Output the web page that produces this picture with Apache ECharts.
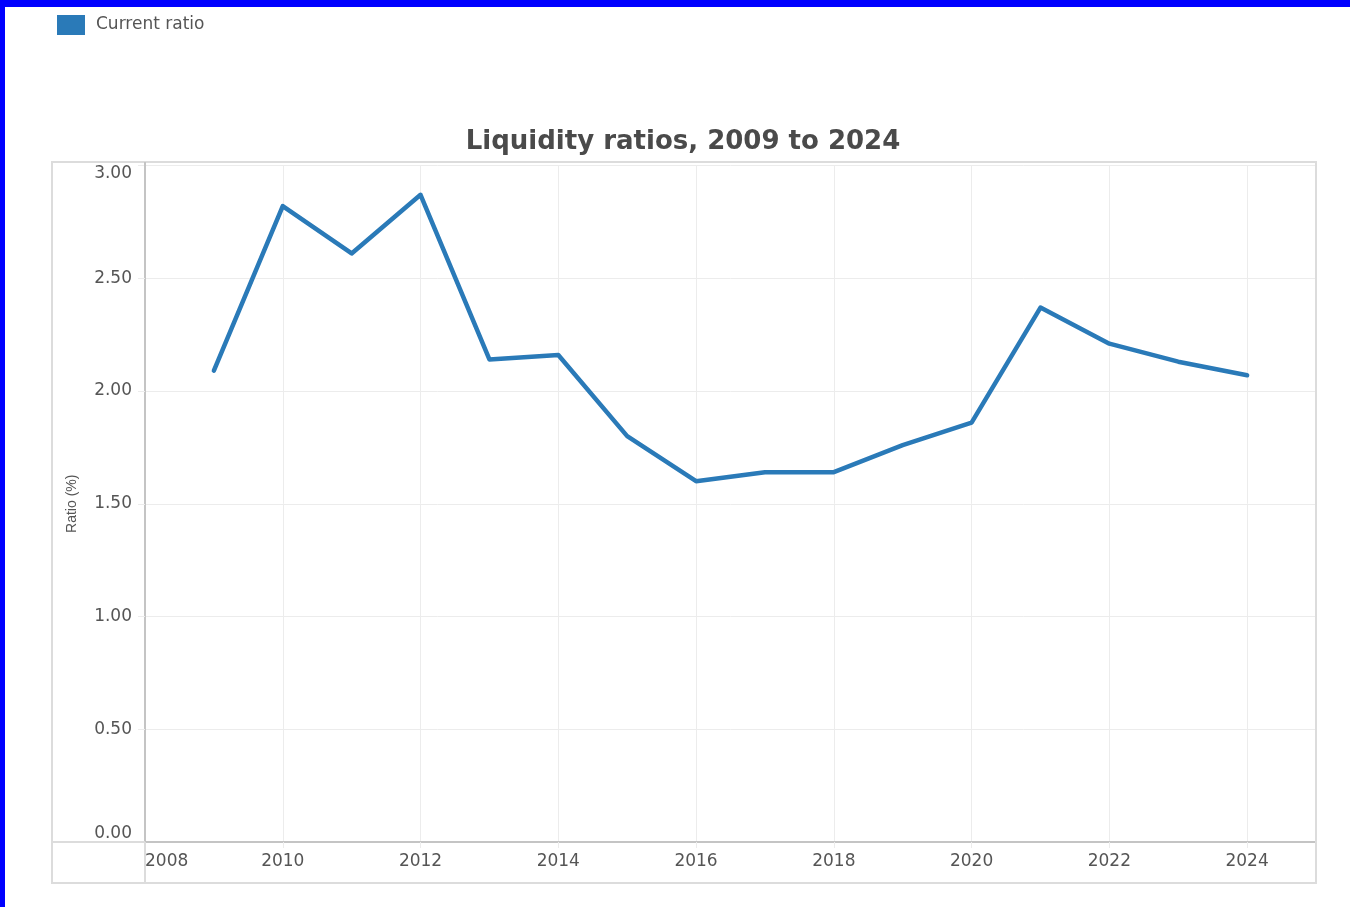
<!DOCTYPE html>
<html>
<head>
<meta charset="utf-8">
<title>Liquidity ratios, 2009 to 2024</title>
<script src="https://cdn.jsdelivr.net/npm/echarts@6/dist/echarts.min.js"></script>
<style>
  html, body { margin: 0; padding: 0; background: #ffffff; }
  #chart { width: 1350px; height: 907px; }
</style>
</head>
<body>
<div id="chart"></div>
<script>
// Current ratio by year
const years = [2009, 2010, 2011, 2012, 2013, 2014, 2015, 2016, 2017, 2018, 2019, 2020, 2021, 2022, 2023, 2024];
const currentRatio = [2.09, 2.82, 2.61, 2.87, 2.14, 2.16, 1.80, 1.60, 1.64, 1.64, 1.76, 1.86, 2.37, 2.21, 2.13, 2.07];
const seriesName = 'Current ratio';
const chartTitle = 'Liquidity ratios, 2009 to 2024';
const yAxisName = 'Ratio (%)';

const lineColor = '#2a7ab8';
const labelColor = '#555555';
const frameColor = '#dcdcdc';
const axisColor = '#c4c4c4';
const gridColor = '#ececec';

const chart = echarts.init(document.getElementById('chart'), null, { renderer: 'canvas' });

chart.setOption({
  animation: false,
  backgroundColor: '#ffffff',
  title: {
    text: chartTitle,
    left: 683,
    textAlign: 'center',
    top: 129,
    padding: 0,
    textStyle: { fontFamily: 'DejaVu Sans', fontWeight: 'bold', fontSize: 26, color: '#4a4a4a' }
  },
  legend: {
    left: 57,
    top: 15,
    padding: 0,
    itemWidth: 28,
    itemHeight: 20,
    icon: 'rect',
    data: [seriesName],
    textStyle: { fontFamily: 'DejaVu Sans', fontSize: 17, color: labelColor, padding: [4, 0, 0, 6] }
  },
  grid: { left: 145, top: 165.5, right: 34, bottom: 65, containLabel: false },
  xAxis: {
    type: 'value',
    min: 2008,
    max: 2025,
    interval: 2,
    axisLine: { show: true, lineStyle: { color: axisColor, width: 2 } },
    axisTick: { show: true, length: 6, lineStyle: { color: gridColor, width: 1 } },
    splitLine: { show: true, lineStyle: { color: gridColor, width: 1 } },
    axisLabel: {
      formatter: v => String(v),
      showMaxLabel: false,
      alignMinLabel: 'left',
      margin: 11,
      fontFamily: 'DejaVu Sans',
      fontSize: 17,
      color: labelColor
    }
  },
  yAxis: {
    type: 'value',
    min: 0,
    max: 3,
    interval: 0.5,
    name: yAxisName,
    nameLocation: 'middle',
    nameGap: 66,
    nameRotate: 90,
    nameTextStyle: { fontFamily: 'Liberation Sans', fontSize: 14, color: labelColor },
    axisLine: { show: true, lineStyle: { color: axisColor, width: 2 } },
    axisTick: { show: true, length: 7, lineStyle: { color: gridColor, width: 1 } },
    splitLine: { show: true, lineStyle: { color: gridColor, width: 1 } },
    axisLabel: {
      formatter: v => v.toFixed(2),
      margin: 13,
      verticalAlignMinLabel: 'bottom',
      verticalAlignMaxLabel: 'top',
      fontFamily: 'DejaVu Sans',
      fontSize: 17,
      color: labelColor
    }
  },
  series: [{
    name: seriesName,
    type: 'line',
    data: years.map((y, i) => [y, currentRatio[i]]),
    showSymbol: false,
    symbol: 'none',
    color: lineColor,
    lineStyle: { color: lineColor, width: 4.5, join: 'round', cap: 'round' }
  }],
  graphic: [
    // page frame
    { type: 'rect', shape: { x: 0, y: 0, width: 1350, height: 7 }, style: { fill: '#0000ff' }, z: 100 },
    { type: 'rect', shape: { x: 0, y: 0, width: 5, height: 907 }, style: { fill: '#0000ff' }, z: 100 },
    // chart box and corner cell
    { type: 'rect', shape: { x: 52, y: 162, width: 1264, height: 721 }, style: { fill: 'none', stroke: frameColor, lineWidth: 2 }, z: 1 },
    { type: 'line', shape: { x1: 145, y1: 842, x2: 145, y2: 883 }, style: { stroke: frameColor, lineWidth: 2 }, z: 1 },
    { type: 'line', shape: { x1: 52, y1: 842, x2: 145, y2: 842 }, style: { stroke: frameColor, lineWidth: 2 }, z: 1 },
    // value axis line carried up to the box edge
    { type: 'line', shape: { x1: 145, y1: 162, x2: 145, y2: 167 }, style: { stroke: axisColor, lineWidth: 2 }, z: 5 }
  ]
});
</script>
</body>
</html>
